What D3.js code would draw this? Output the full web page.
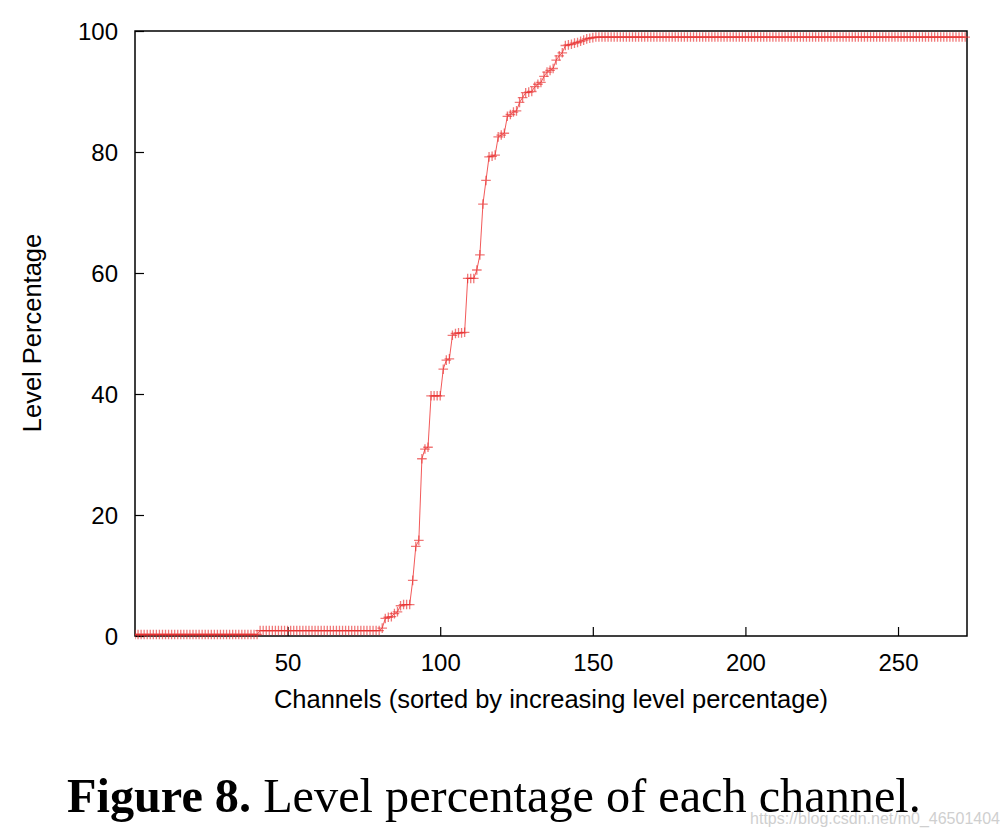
<!DOCTYPE html>
<html>
<head>
<meta charset="utf-8">
<script src="https://cdn.jsdelivr.net/npm/d3@7"></script>
<style>
  html, body { margin: 0; padding: 0; background: #fff; }
  svg { display: block; }
</style>
</head>
<body>
<svg id="chart" width="1004" height="836"></svg>
<script>
// ---- data ----
// level percentage of each channel, channel index 0..272 (sorted ascending)
const levelPct = [
  0.25,0.25,0.25,0.25,0.25,0.25,0.25,0.25,0.25,0.25,
  0.25,0.25,0.25,0.25,0.25,0.25,0.25,0.25,0.25,0.25,
  0.25,0.25,0.25,0.25,0.25,0.25,0.25,0.25,0.25,0.25,
  0.25,0.25,0.25,0.25,0.25,0.25,0.25,0.25,0.25,0.25,
  0.25,
  0.9,0.9,0.9,0.9,0.9,0.9,0.9,0.9,0.9,0.9,
  0.9,0.9,0.9,0.9,0.9,0.9,0.9,0.9,0.9,0.9,
  0.9,0.9,0.9,0.9,0.9,0.9,0.9,0.9,0.9,0.9,
  0.9,0.9,0.9,0.9,0.9,0.9,0.9,0.9,0.9,0.9,
  1.3,2.9,3.1,3.2,3.7,4.0,5.0,5.2,5.2,5.2,
  9.2,14.8,15.8,29.3,30.9,31.2,39.7,39.7,39.7,39.7,
  44.1,45.6,45.8,49.7,50.0,50.1,50.1,50.2,59.1,59.1,
  59.1,60.5,63.0,71.4,75.3,79.2,79.3,79.5,82.5,82.8,
  83.1,85.9,86.2,86.6,86.8,88.2,89.0,89.8,89.9,90.0,
  90.8,91.2,91.5,92.5,93.2,93.5,93.8,95.2,95.9,96.4,
  97.6,97.7,97.8,98.0,98.1,98.3,98.5,98.7,98.8,98.9,
  99,99,99,99,99,99,99,99,99,99,
  99,99,99,99,99,99,99,99,99,99,
  99,99,99,99,99,99,99,99,99,99,
  99,99,99,99,99,99,99,99,99,99,
  99,99,99,99,99,99,99,99,99,99,
  99,99,99,99,99,99,99,99,99,99,
  99,99,99,99,99,99,99,99,99,99,
  99,99,99,99,99,99,99,99,99,99,
  99,99,99,99,99,99,99,99,99,99,
  99,99,99,99,99,99,99,99,99,99,
  99,99,99,99,99,99,99,99,99,99,
  99,99,99,99,99,99,99,99,99,99,
  99,99
];
const xTicks = [50, 100, 150, 200, 250];
const yTicks = [0, 20, 40, 60, 80, 100];
const xLabel = "Channels (sorted by increasing level percentage)";
const yLabel = "Level Percentage";
const captionBold = "Figure 8.";
const captionRest = " Level percentage of each channel.";
const watermark = "https://blog.csdn.net/m0_46501404";

// ---- layout ----
const plot = { left: 135, right: 967, top: 31, bottom: 636 };
const svg = d3.select("#chart");

const x = d3.scaleLinear().domain([0, 272.6]).range([plot.left, plot.right]);
const y = d3.scaleLinear().domain([0, 100]).range([plot.bottom, plot.top]);

const sans = "'Liberation Sans', Arial, Helvetica, sans-serif";
const tickLen = 9;

// clip for data
svg.append("defs").append("clipPath").attr("id", "clip")
  .append("rect").attr("x", plot.left).attr("y", plot.top - 10)
  .attr("width", plot.right - plot.left + 4).attr("height", plot.bottom - plot.top + 20);

// axes via d3 (inner ticks)
const axB = svg.append("g").attr("transform", `translate(0,${plot.bottom})`)
  .call(d3.axisBottom(x).tickValues(xTicks).tickSize(-tickLen).tickPadding(18).tickFormat(d3.format("d")));
const axL = svg.append("g").attr("transform", `translate(${plot.left},0)`)
  .call(d3.axisLeft(y).tickValues(yTicks).tickSize(-tickLen).tickPadding(17).tickFormat(d3.format("d")));

[axB, axL].forEach(g => {
  g.select(".domain").remove();
  g.selectAll(".tick line").attr("stroke", "#000").attr("stroke-width", 1.2);
  g.selectAll("text").attr("font-family", sans).attr("font-size", 24).attr("fill", "#000");
});
axL.selectAll("text").attr("dy", "0.36em");
axB.selectAll("text").attr("dy", "0.71em");

// frame
svg.append("rect")
  .attr("x", plot.left).attr("y", plot.top)
  .attr("width", plot.right - plot.left).attr("height", plot.bottom - plot.top)
  .attr("fill", "none").attr("stroke", "#000").attr("stroke-width", 1.5);

// data line and markers
const pts = levelPct.map((v, i) => ({ c: i, v }));
const gData = svg.append("g").attr("clip-path", "url(#clip)");
gData.append("path")
  .datum(pts)
  .attr("fill", "none")
  .attr("stroke", "#f03c3c")
  .attr("stroke-opacity", 0.85)
  .attr("stroke-width", 1)
  .attr("d", d3.line().x(d => x(d.c)).y(d => y(d.v)));

const ms = 4.8;
gData.append("g").selectAll("path.mk")
  .data(pts)
  .join("path")
  .attr("class", "mk")
  .attr("d", d => {
    const px = x(d.c), py = y(d.v);
    return `M${px - ms},${py}H${px + ms}M${px},${py - ms}V${py + ms}`;
  })
  .attr("fill", "none")
  .attr("stroke", "#e83030")
  .attr("stroke-opacity", 0.65)
  .attr("stroke-width", 1.3);

// axis titles
svg.append("text")
  .attr("x", 551).attr("y", 708)
  .attr("text-anchor", "middle")
  .attr("font-family", sans).attr("font-size", 25.5).attr("fill", "#000")
  .text(xLabel);

svg.append("text")
  .attr("transform", `translate(41,333) rotate(-90)`)
  .attr("text-anchor", "middle")
  .attr("font-family", sans).attr("font-size", 25.5).attr("fill", "#000")
  .text(yLabel);

// caption
const serif = "'Liberation Serif', 'DejaVu Serif', Georgia, serif";
const cap = svg.append("text")
  .attr("x", 67).attr("y", 812)
  .attr("font-family", serif).attr("font-size", 46).attr("fill", "#000");
cap.append("tspan").attr("font-weight", "bold").text(captionBold);
cap.append("tspan").text(captionRest);
const capW = cap.node().getComputedTextLength();
const targetW = 854;
cap.attr("font-size", 46 * targetW / capW);

// watermark
svg.append("text")
  .attr("x", 1000).attr("y", 824)
  .attr("text-anchor", "end")
  .attr("font-family", "'Liberation Sans Narrow', 'Liberation Sans', Arial, sans-serif")
  .attr("font-size", 16).attr("fill", "#cfcfcf")
  .text(watermark);
</script>
</body>
</html>
